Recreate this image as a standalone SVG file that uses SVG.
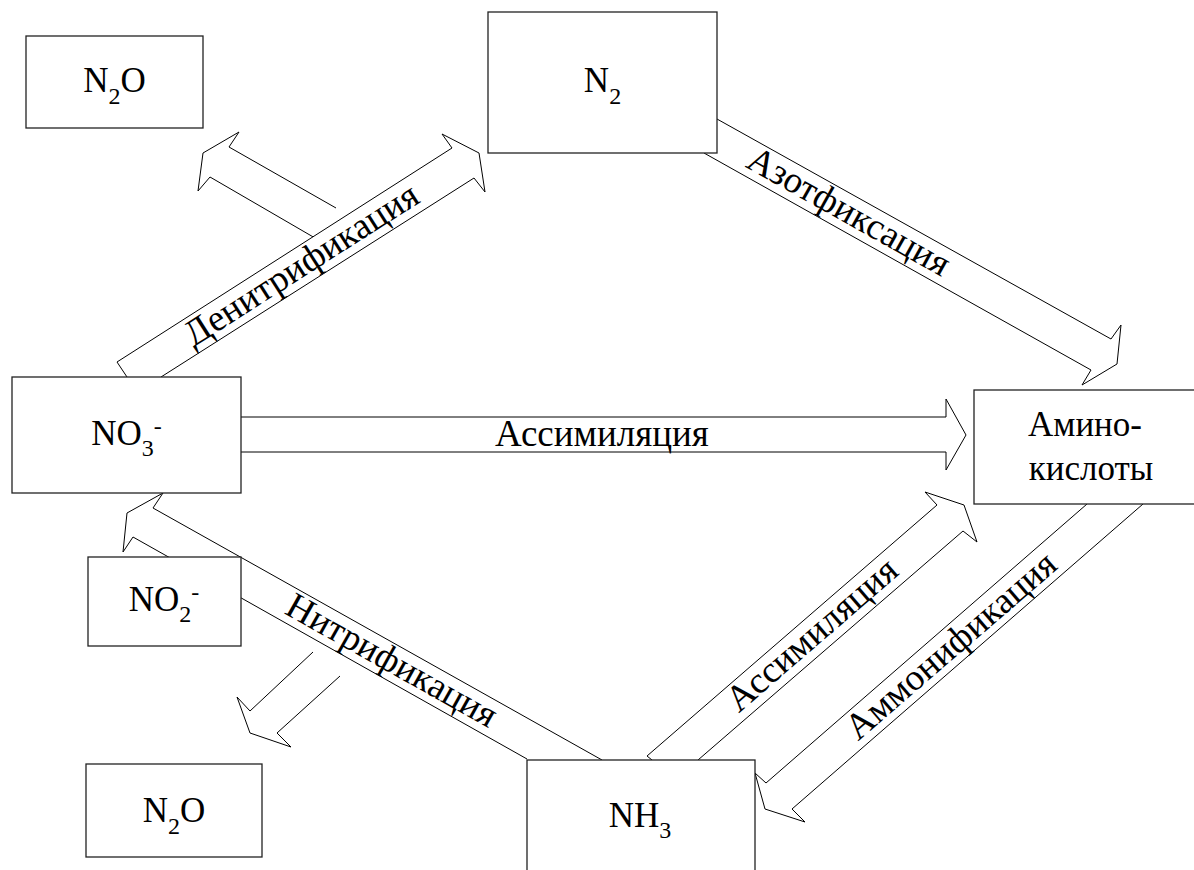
<svg xmlns="http://www.w3.org/2000/svg" width="1194" height="870" viewBox="0 0 1194 870">
<style>
.arrow{fill:#fff;stroke:#000;stroke-width:1;stroke-linejoin:miter}
.box{fill:#fff;stroke:#222;stroke-width:1.3}
.t{font-family:'Liberation Serif','DejaVu Serif',serif;font-size:35px;fill:#000;text-anchor:middle}
.l{font-size:37px}
.s{font-size:24px}
</style>
<rect width="1194" height="870" fill="#fff"/>
<g id="connectors">
  <polyline class="arrow" points="336,208 229,147 239,132 203,153 198,191 210,177 315,238"/>
  <polyline class="arrow" points="127,377 117,362 452,148 442,134 479,153 485,192 474,178 161,377"/>
  <polyline class="arrow" points="717,119 1111,339 1121,325 1117,364 1082,385 1091,370 704,153"/>
  <polyline class="arrow" points="241,417 946,417 946,399 966,435 946,470 946,452 241,452"/>
  <polyline class="arrow" points="602,760 153,508 163,493 127,513 123,552 133,537 527,759"/>
  <polyline class="arrow" points="313,652 250,711 237,697 250,733 291,747 277,733 340,676"/>
  <polyline class="arrow" points="652,760 647,756 937,505 925,492 964,505 977,542 963,531 698,760"/>
  <polyline class="arrow" points="1087,504 766,783 755,773 765,809 805,822 792,809 1143,504"/>
  <text class="t l" transform="translate(302,266) rotate(-32.6)" y="10">Денитрификация</text>
  <text class="t l" transform="translate(848,213) rotate(29.25)" y="10">Азотфиксация</text>
  <text class="t l" x="602" y="446">Ассимиляция</text>
  <text class="t l" transform="translate(391,662) rotate(29.3)" y="10">Нитрификация</text>
  <text class="t l" transform="translate(813,636) rotate(-40.85)" y="10">Ассимиляция</text>
  <text class="t l" transform="translate(952,647) rotate(-40.8)" y="10">Аммонификация</text>
</g>
<g id="n2o-top">
  <rect class="box" x="26" y="36" width="177" height="92"/>
  <text class="t" x="114.5" y="92">N<tspan class="s" dy="12">2</tspan><tspan dy="-12">O</tspan></text>
</g>
<g id="n2">
  <rect class="box" x="488" y="12" width="229" height="141"/>
  <text class="t" x="602.5" y="92">N<tspan class="s" dy="12">2</tspan></text>
</g>
<g id="no3">
  <rect class="box" x="12" y="377" width="229" height="116"/>
  <text class="t" x="126.5" y="445">NO<tspan class="s" dy="11">3</tspan><tspan class="s" dy="-22">-</tspan></text>
</g>
<g id="amino">
  <rect class="box" x="974" y="390" width="240" height="114"/>
  <text class="t" x="1085" y="436">Амино-</text>
  <text class="t" x="1091" y="480">кислоты</text>
</g>
<g id="no2">
  <rect class="box" x="88" y="557" width="153" height="89"/>
  <text class="t" x="164" y="611">NO<tspan class="s" dy="11">2</tspan><tspan class="s" dy="-22">-</tspan></text>
</g>
<g id="n2o-bottom">
  <rect class="box" x="86" y="764" width="176" height="93"/>
  <text class="t" x="174" y="822">N<tspan class="s" dy="12">2</tspan><tspan dy="-12">O</tspan></text>
</g>
<g id="nh3">
  <rect class="box" x="527" y="760" width="228" height="130"/>
  <text class="t" x="640" y="827">NH<tspan class="s" dy="11">3</tspan></text>
</g>
</svg>
